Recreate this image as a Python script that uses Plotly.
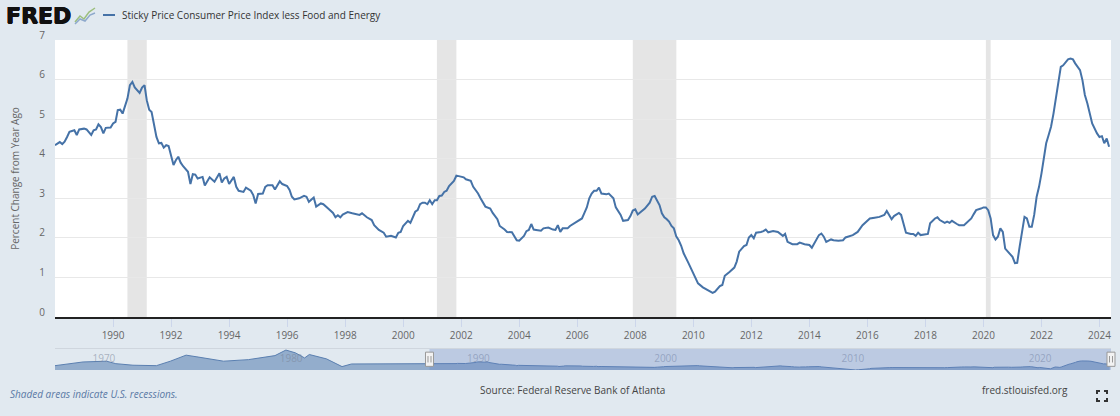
import datetime as dt
import plotly.graph_objects as go

# ---------------- data ----------------
DATES = [
    "1988-01", "1988-02", "1988-03", "1988-04", "1988-05", "1988-06", "1988-07", "1988-08", "1988-09", "1988-10",
    "1988-11", "1989-01", "1989-02", "1989-04", "1989-05", "1989-06", "1989-07", "1989-08", "1989-09", "1989-10",
    "1989-12", "1990-01", "1990-02", "1990-03", "1990-04", "1990-05", "1990-06", "1990-07", "1990-08", "1990-09",
    "1990-10", "1990-12", "1991-01", "1991-02", "1991-03", "1991-04", "1991-05", "1991-06", "1991-07", "1991-08",
    "1991-09", "1991-10", "1991-11", "1991-12", "1992-01", "1992-02", "1992-03", "1992-04", "1992-05", "1992-06",
    "1992-08", "1992-09", "1992-10", "1992-11", "1992-12", "1993-02", "1993-03", "1993-04", "1993-05", "1993-07",
    "1993-08", "1993-09", "1993-10", "1993-11", "1993-12", "1994-01", "1994-03", "1994-04", "1994-05", "1994-07",
    "1994-08", "1994-10", "1994-11", "1994-12", "1995-01", "1995-03", "1995-04", "1995-05", "1995-07", "1995-08",
    "1995-10", "1995-11", "1996-01", "1996-02", "1996-03", "1996-04", "1996-06", "1996-08", "1996-09", "1996-10",
    "1996-12", "1997-01", "1997-03", "1997-04", "1997-06", "1997-08", "1997-09", "1997-10", "1997-11", "1997-12",
    "1998-02", "1998-03", "1998-04", "1998-07", "1998-08", "1998-10", "1998-12", "1999-01", "1999-03", "1999-05",
    "1999-06", "1999-08", "1999-09", "1999-10", "1999-11", "1999-12", "2000-01", "2000-03", "2000-04", "2000-05",
    "2000-06", "2000-07", "2000-08", "2000-09", "2000-10", "2000-11", "2000-12", "2001-01", "2001-02", "2001-03",
    "2001-04", "2001-05", "2001-06", "2001-07", "2001-08", "2001-10", "2001-11", "2001-12", "2002-02", "2002-03",
    "2002-05", "2002-06", "2002-07", "2002-08", "2002-09", "2002-10", "2002-11", "2003-01", "2003-02", "2003-04",
    "2003-05", "2003-07", "2003-08", "2003-10", "2003-11", "2003-12", "2004-01", "2004-03", "2004-04", "2004-05",
    "2004-06", "2004-07", "2004-08", "2004-10", "2004-11", "2005-01", "2005-03", "2005-04", "2005-05", "2005-06",
    "2005-07", "2005-09", "2005-10", "2005-12", "2006-01", "2006-03", "2006-04", "2006-05", "2006-06", "2006-07",
    "2006-08", "2006-09", "2006-10", "2006-11", "2007-01", "2007-02", "2007-04", "2007-05", "2007-07", "2007-08",
    "2007-10", "2007-11", "2007-12", "2008-01", "2008-02", "2008-04", "2008-05", "2008-07", "2008-08", "2008-09",
    "2008-11", "2008-12", "2009-01", "2009-02", "2009-03", "2009-04", "2009-05", "2009-06", "2009-07", "2009-08",
    "2009-09", "2009-11", "2010-01", "2010-03", "2010-05", "2010-07", "2010-09", "2010-10", "2010-12", "2011-01",
    "2011-02", "2011-04", "2011-06", "2011-07", "2011-08", "2011-10", "2011-11", "2011-12", "2012-01", "2012-02",
    "2012-03", "2012-05", "2012-06", "2012-07", "2012-08", "2012-10", "2012-12", "2013-02", "2013-03", "2013-04",
    "2013-06", "2013-08", "2013-09", "2013-11", "2014-01", "2014-02", "2014-03", "2014-05", "2014-06", "2014-07",
    "2014-08", "2014-10", "2014-11", "2015-01", "2015-03", "2015-04", "2015-07", "2015-09", "2015-11", "2016-01",
    "2016-02", "2016-04", "2016-06", "2016-08", "2016-09", "2016-10", "2016-11", "2016-12", "2017-02", "2017-03",
    "2017-04", "2017-05", "2017-07", "2017-08", "2017-09", "2017-10", "2017-11", "2018-01", "2018-02", "2018-03",
    "2018-05", "2018-06", "2018-07", "2018-09", "2018-10", "2018-11", "2018-12", "2019-02", "2019-03", "2019-05",
    "2019-06", "2019-08", "2019-09", "2019-10", "2019-12", "2020-01", "2020-02", "2020-03", "2020-04", "2020-05",
    "2020-06", "2020-07", "2020-08", "2020-09", "2020-10", "2020-11", "2021-01", "2021-02", "2021-03", "2021-04",
    "2021-05", "2021-06", "2021-07", "2021-08", "2021-09", "2021-10", "2021-11", "2021-12", "2022-01", "2022-02",
    "2022-03", "2022-04", "2022-05", "2022-06", "2022-07", "2022-08", "2022-09", "2022-10", "2022-11", "2022-12",
    "2023-01", "2023-02", "2023-03", "2023-05", "2023-06", "2023-07", "2023-08", "2023-09", "2023-10", "2023-12",
    "2024-01", "2024-02", "2024-03", "2024-04", "2024-05",
]
VALUES = [
    4.34, 4.39, 4.42, 4.37, 4.43, 4.55, 4.68, 4.70, 4.72, 4.60,
    4.74, 4.76, 4.74, 4.60, 4.72, 4.74, 4.87, 4.80, 4.64, 4.78,
    4.79, 4.89, 4.93, 5.23, 5.24, 5.14, 5.35, 5.52, 5.86, 5.94,
    5.80, 5.66, 5.80, 5.86, 5.48, 5.24, 5.18, 4.81, 4.55, 4.39,
    4.40, 4.28, 4.34, 4.32, 4.09, 3.84, 3.96, 4.05, 3.90, 3.81,
    3.67, 3.36, 3.61, 3.60, 3.50, 3.54, 3.32, 3.42, 3.53, 3.42,
    3.52, 3.63, 3.40, 3.50, 3.54, 3.36, 3.54, 3.29, 3.19, 3.16,
    3.27, 3.19, 3.08, 2.87, 3.11, 3.12, 3.29, 3.33, 3.33, 3.22,
    3.43, 3.36, 3.31, 3.21, 3.04, 2.97, 3.00, 3.06, 3.04, 2.91,
    3.02, 2.79, 2.87, 2.85, 2.74, 2.63, 2.52, 2.57, 2.52, 2.59,
    2.65, 2.63, 2.62, 2.58, 2.62, 2.52, 2.45, 2.32, 2.20, 2.13,
    2.03, 2.05, 2.03, 2.01, 2.13, 2.15, 2.30, 2.43, 2.38, 2.53,
    2.66, 2.70, 2.85, 2.89, 2.89, 2.85, 2.95, 2.85, 2.95, 2.95,
    3.06, 3.07, 3.16, 3.19, 3.31, 3.44, 3.57, 3.56, 3.53, 3.48,
    3.44, 3.29, 3.22, 3.12, 3.00, 2.89, 2.79, 2.74, 2.63, 2.47,
    2.30, 2.21, 2.15, 2.14, 2.03, 1.94, 1.93, 2.05, 2.17, 2.20,
    2.35, 2.21, 2.20, 2.18, 2.24, 2.26, 2.21, 2.20, 2.32, 2.15,
    2.24, 2.24, 2.30, 2.38, 2.43, 2.49, 2.63, 2.77, 3.00, 3.12,
    3.19, 3.19, 3.27, 3.12, 3.10, 3.12, 3.00, 2.77, 2.58, 2.43,
    2.45, 2.55, 2.69, 2.72, 2.59, 2.69, 2.74, 2.89, 3.04, 3.06,
    2.83, 2.62, 2.52, 2.47, 2.41, 2.30, 2.24, 2.03, 1.94, 1.80,
    1.61, 1.36, 1.10, 0.85, 0.75, 0.68, 0.61, 0.64, 0.78, 0.81,
    1.04, 1.14, 1.25, 1.40, 1.65, 1.79, 1.82, 2.01, 2.07, 1.99,
    2.13, 2.15, 2.17, 2.21, 2.14, 2.17, 2.15, 2.05, 2.10, 1.90,
    1.84, 1.84, 1.88, 1.84, 1.82, 1.75, 1.86, 2.07, 2.11, 2.03,
    1.90, 1.96, 1.94, 1.93, 1.94, 2.01, 2.07, 2.15, 2.32, 2.43,
    2.49, 2.51, 2.53, 2.58, 2.68, 2.58, 2.47, 2.55, 2.63, 2.58,
    2.32, 2.13, 2.10, 2.10, 2.05, 2.13, 2.07, 2.10, 2.10, 2.37,
    2.49, 2.52, 2.45, 2.38, 2.41, 2.38, 2.43, 2.35, 2.32, 2.32,
    2.38, 2.49, 2.60, 2.70, 2.74, 2.77, 2.77, 2.70, 2.49, 2.07,
    1.96, 2.03, 2.24, 2.15, 1.73, 1.65, 1.52, 1.36, 1.37, 1.78,
    2.20, 2.53, 2.49, 2.28, 2.28, 2.58, 3.04, 3.29, 3.63, 4.05,
    4.39, 4.60, 4.81, 5.14, 5.52, 5.94, 6.32, 6.36, 6.45, 6.51,
    6.53, 6.51, 6.41, 6.24, 5.98, 5.61, 5.40, 5.10, 4.89, 4.64,
    4.55, 4.57, 4.39, 4.51, 4.30,
]

# earlier history, only visible in the navigator strip
EARLY_DATES = ["1968-01", "1969-07", "1970-10", "1971-04", "1972-03", "1973-06", "1974-03",
               "1975-01", "1975-08", "1977-01", "1978-05", "1979-10", "1980-05", "1980-11",
               "1981-05", "1981-08", "1982-07", "1983-05", "1983-11", "1985-06", "1987-12"]
EARLY_VALUES = [3.4, 5.8, 6.3, 4.7, 3.7, 3.4, 6.3,
                10.2, 9.1, 6.3, 7.3, 9.9, 13.5, 11.7,
                8.4, 10.6, 7.8, 2.8, 4.5, 4.5, 4.35]

REC_START = ["1990-07-01", "2001-03-01", "2007-12-01", "2020-02-01"]
REC_END = ["1991-03-01", "2001-11-01", "2009-06-01", "2020-04-01"]

TICK_YEARS = [1990, 1992, 1994, 1996, 1998, 2000, 2002, 2004, 2006, 2008,
              2010, 2012, 2014, 2016, 2018, 2020, 2022, 2024]
NAV_TICK_YEARS = [1970, 1980, 1990, 2000, 2010, 2020]

SERIES_NAME = "Sticky Price Consumer Price Index less Food and Energy"
Y_TITLE = "Percent Change from Year Ago"

VIEW_START, VIEW_END = "1988-01-01", "2024-05-25"
NAV_START = "1968-01-01"

# ---------------- layout helpers ----------------
W, H = 1120, 416
ML, MR, MT, MB = 55, 9, 40, 40
PW, PH = W - ML - MR, H - MT - MB


def px(x):
    return (x - ML) / PW


def py(y):
    return (H - MB - y) / PH


def nav_frac(d):
    a = dt.date.fromisoformat(NAV_START)
    b = dt.date.fromisoformat(VIEW_END)
    return (dt.date.fromisoformat(d) - a).days / (b - a).days


BG = "#e1e9f0"
LINE = "#4572a7"
FONT = "Open Sans"

fig = go.Figure()
fig.add_trace(go.Scatter(
    x=DATES, y=VALUES, mode="lines", name=SERIES_NAME,
    line=dict(color=LINE, width=2), xaxis="x", yaxis="y",
    hoverinfo="x+y", showlegend=False))
fig.add_trace(go.Scatter(
    x=EARLY_DATES + DATES, y=EARLY_VALUES + VALUES, mode="lines",
    line=dict(color="#5a7fb0", width=1), fill="tozeroy",
    fillcolor="rgba(69,114,167,0.5)", xaxis="x2", yaxis="y2",
    hoverinfo="skip", showlegend=False))

shapes = []
# white plotting area for the main chart
shapes.append(dict(type="rect", xref="x domain", yref="y domain", x0=0, x1=1, y0=0, y1=1,
                   fillcolor="white", line=dict(width=0), layer="below"))
for s, e in zip(REC_START, REC_END):
    shapes.append(dict(type="rect", xref="x", yref="y domain", x0=s, x1=e, y0=0, y1=1,
                       fillcolor="#e5e5e5", line=dict(width=0), layer="below"))

# navigator: selection mask, outline and handles
shapes.append(dict(type="rect", xref="x2", yref="y2 domain", x0=VIEW_START, x1=VIEW_END,
                   y0=0, y1=1, fillcolor="rgba(102,133,194,0.3)", line=dict(width=0), layer="above"))
shapes.append(dict(type="line", xref="x2 domain", yref="y2 domain", x0=0, x1=1, y0=1, y1=1,
                   line=dict(color="#cfd6de", width=1)))
nav_lo, nav_hi = py(370), py(348.5)
nav_h = nav_hi - nav_lo
for hx in (VIEW_START, VIEW_END):
    fx = nav_frac(hx)
    shapes.append(dict(type="rect", xref="paper", yref="paper", xsizemode="pixel", xanchor=fx,
                       x0=-4, x1=4, y0=nav_lo + 0.17 * nav_h, y1=nav_lo + 0.83 * nav_h,
                       fillcolor="#f2f2f2", line=dict(color="#999999", width=1), layer="above"))
    for off in (-1.5, 1.5):
        shapes.append(dict(type="line", xref="paper", yref="paper", xsizemode="pixel", xanchor=fx,
                           x0=off, x1=off, y0=nav_lo + 0.35 * nav_h, y1=nav_lo + 0.65 * nav_h,
                           line=dict(color="#999999", width=1), layer="above"))

# header legend line
shapes.append(dict(type="line", xref="paper", yref="paper", x0=px(103), x1=px(115),
                   y0=py(15), y1=py(15), line=dict(color=LINE, width=2)))


def path(points):
    return "M " + " L ".join(f"{px(a):.5f},{py(b):.5f}" for a, b in points)


# small logo graph icon
shapes.append(dict(type="path", xref="paper", yref="paper",
                   path=path([(75, 22), (80, 16), (84, 19), (89, 12), (95, 8)]),
                   line=dict(color="#9cbf7e", width=1.5)))
shapes.append(dict(type="path", xref="paper", yref="paper",
                   path=path([(75, 24), (80, 19), (85, 21), (90, 15), (95, 13)]),
                   line=dict(color="#8ea9cc", width=1.5)))
# fullscreen icon
for pts in ([(1097, 394), (1097, 391), (1100, 391)], [(1104, 391), (1107, 391), (1107, 394)],
            [(1107, 398), (1107, 401), (1104, 401)], [(1100, 401), (1097, 401), (1097, 398)]):
    shapes.append(dict(type="path", xref="paper", yref="paper", path=path(pts),
                       line=dict(color="#333333", width=2)))

annotations = [
    dict(text="<b>FRED</b>", x=px(4), y=py(15), xref="paper", yref="paper",
         xanchor="left", yanchor="middle", showarrow=False,
         font=dict(family="DejaVu Sans", size=22, color="#111111",
                   shadow="0.6px 0 0 #111111, -0.4px 0 0 #111111, 0 0.5px 0 #111111")),
    dict(text=SERIES_NAME, x=px(120), y=py(15), xref="paper", yref="paper",
         xanchor="left", yanchor="middle", showarrow=False,
         font=dict(family=FONT, size=10, color="#333333")),
    dict(text="<i>Shaded areas indicate U.S. recessions.</i>", x=px(8), y=py(394),
         xref="paper", yref="paper", xanchor="left", yanchor="middle", showarrow=False,
         font=dict(family=FONT, size=10, color="#5a79a5")),
    dict(text="Source: Federal Reserve Bank of Atlanta", x=px(572), y=py(390),
         xref="paper", yref="paper", xanchor="center", yanchor="middle", showarrow=False,
         font=dict(family=FONT, size=10, color="#444444")),
    dict(text="fred.stlouisfed.org", x=px(1070), y=py(390),
         xref="paper", yref="paper", xanchor="right", yanchor="middle", showarrow=False,
         font=dict(family=FONT, size=10, color="#444444")),
]

fig.update_layout(
    width=W, height=H,
    margin=dict(l=ML, r=MR, t=MT, b=MB, autoexpand=False),
    paper_bgcolor=BG, plot_bgcolor="rgba(0,0,0,0)",
    showlegend=False,
    shapes=shapes, annotations=annotations,
    xaxis=dict(domain=[0, 1], anchor="y", type="date", range=[VIEW_START, VIEW_END],
               tickvals=[f"{y}-01-01" for y in TICK_YEARS], ticktext=[str(y) for y in TICK_YEARS],
               ticks="outside", ticklen=8, tickcolor="#ccd6eb", tickwidth=1,
               showline=True, linecolor="#222222", linewidth=1.5, showgrid=False, zeroline=False,
               tickfont=dict(family=FONT, size=10, color="#666666"), automargin=False),
    yaxis=dict(domain=[py(317), 1], anchor="x", range=[0, 7], tick0=0, dtick=1,
               showgrid=True, gridcolor="#e8e8e8", gridwidth=1, zeroline=False, showline=False,
               ticks="", ticklabelstandoff=9, ticklabelshift=-5,
               tickfont=dict(family=FONT, size=10, color="#666666"),
               title=dict(text=Y_TITLE, font=dict(family=FONT, size=10, color="#666666"), standoff=17),
               automargin=False),
    xaxis2=dict(domain=[0, 1], anchor="y2", type="date", range=[NAV_START, VIEW_END],
                tickvals=[f"{y}-01-01" for y in NAV_TICK_YEARS], ticktext=[str(y) for y in NAV_TICK_YEARS],
                ticks="", ticklabelposition="inside right", showline=False, showgrid=False,
                zeroline=False, tickfont=dict(family=FONT, size=10, color="rgba(120,130,150,0.55)"),
                automargin=False),
    yaxis2=dict(domain=[nav_lo, nav_hi], anchor="x2", range=[0.6, 14.5],
                showticklabels=False, showgrid=False, zeroline=False, showline=False, ticks=""),
)

fig.write_html("out.html", config={"displayModeBar": False},
               post_script="document.body.style.margin='0px';document.body.style.background='" + BG + "';")
